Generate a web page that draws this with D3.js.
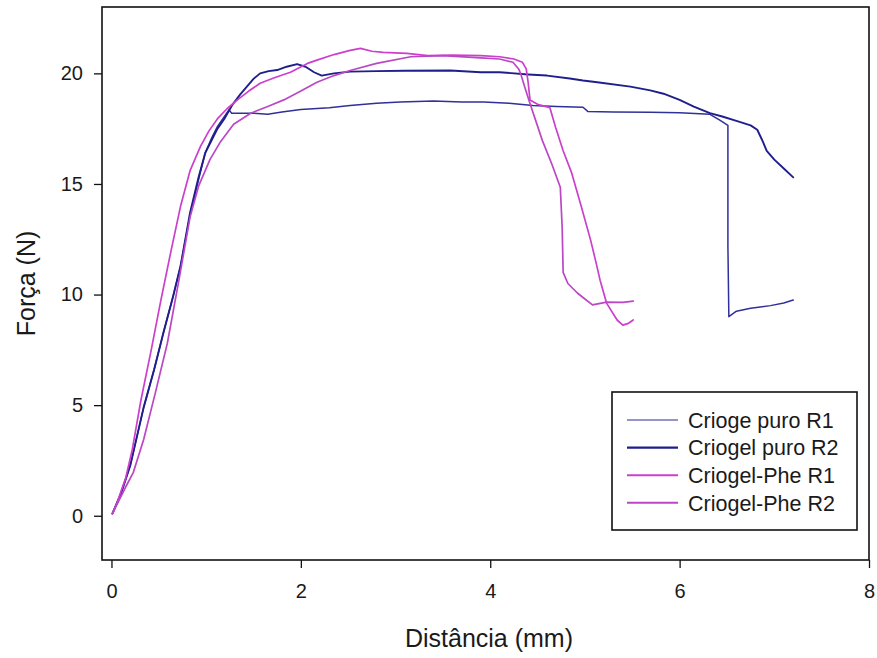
<!DOCTYPE html>
<html>
<head>
<meta charset="utf-8">
<script src="https://cdn.jsdelivr.net/npm/d3@7"></script>
<style>
  html, body { margin: 0; padding: 0; background: #fff; }
  svg { display: block; font-family: "Liberation Sans", Arial, sans-serif; }
</style>
</head>
<body>
<svg id="chart" width="877" height="658"></svg>
<script>
// Force–displacement curves, [distância (mm), força (N)]
const puroR1 = [
  [0.01,0.1],[0.1,1.0],[0.2,2.3],[0.34,4.9],[0.45,6.6],[0.55,8.3],[0.65,9.9],[0.73,11.3],
  [0.83,13.6],[0.92,15.2],[0.99,16.4],[1.06,17.1],[1.12,17.6],[1.2,18.1],[1.24,18.35],
  [1.27,18.2],[1.33,18.2],[1.5,18.2],[1.65,18.15],[1.8,18.25],[2.0,18.37],[2.3,18.45],
  [2.52,18.55],[2.8,18.65],[3.05,18.7],[3.4,18.75],[3.7,18.7],[3.93,18.7],[4.2,18.65],
  [4.45,18.55],[4.7,18.5],[4.98,18.47],[5.03,18.28],[5.3,18.25],[5.69,18.24],[6.0,18.22],
  [6.32,18.15],[6.42,17.9],[6.51,17.65],[6.51,12.2],[6.52,9.0],[6.6,9.25],[6.75,9.38],
  [6.96,9.5],[7.1,9.62],[7.2,9.75]
];
const puroR2 = [
  [0.01,0.1],[0.1,1.0],[0.2,2.3],[0.34,4.9],[0.45,6.6],[0.55,8.3],[0.65,9.9],[0.73,11.3],
  [0.83,13.7],[0.92,15.3],[0.99,16.4],[1.06,17.0],[1.12,17.5],[1.2,18.0],[1.28,18.6],
  [1.36,19.05],[1.43,19.4],[1.5,19.75],[1.57,20.0],[1.66,20.1],[1.75,20.15],[1.85,20.3],
  [1.96,20.42],[2.05,20.3],[2.14,20.05],[2.22,19.9],[2.35,20.0],[2.52,20.08],[2.8,20.1],
  [3.1,20.12],[3.58,20.13],[3.9,20.05],[4.1,20.05],[4.4,19.95],[4.6,19.9],[4.84,19.77],
  [4.98,19.68],[5.13,19.6],[5.48,19.4],[5.69,19.23],[5.83,19.08],[6.0,18.8],[6.15,18.5],
  [6.32,18.2],[6.45,18.05],[6.6,17.85],[6.75,17.65],[6.82,17.45],[6.87,17.0],[6.92,16.5],
  [7.0,16.1],[7.1,15.7],[7.2,15.3]
];
const pheR1 = [
  [0.01,0.1],[0.06,0.6],[0.1,1.1],[0.15,1.7],[0.22,3.0],[0.31,5.2],[0.42,7.5],[0.52,9.7],
  [0.63,12.0],[0.73,14.0],[0.83,15.6],[0.94,16.7],[1.03,17.4],[1.12,17.95],[1.22,18.4],
  [1.33,18.8],[1.45,19.2],[1.57,19.55],[1.72,19.8],[1.89,20.05],[2.07,20.45],[2.17,20.6],
  [2.35,20.85],[2.52,21.04],[2.63,21.13],[2.75,21.0],[2.87,20.95],[3.12,20.9],[3.34,20.8],
  [3.6,20.82],[3.9,20.8],[4.1,20.75],[4.25,20.65],[4.34,20.5],[4.38,20.2],[4.4,19.6],
  [4.42,18.8],[4.5,18.6],[4.63,18.45],[4.69,17.56],[4.77,16.5],[4.86,15.5],[4.96,14.0],
  [5.06,12.46],[5.12,11.4],[5.16,10.65],[5.23,9.6],[5.34,8.85],[5.4,8.62],[5.46,8.7],[5.51,8.85]
];
const pheR2 = [
  [0.01,0.1],[0.08,0.7],[0.15,1.3],[0.23,1.95],[0.34,3.45],[0.46,5.5],[0.59,7.8],[0.71,10.6],
  [0.83,13.5],[0.92,14.9],[1.04,16.1],[1.15,16.9],[1.29,17.7],[1.47,18.2],[1.65,18.5],
  [1.82,18.8],[2.0,19.2],[2.17,19.6],[2.35,19.9],[2.52,20.13],[2.8,20.45],[3.16,20.75],
  [3.5,20.8],[3.9,20.7],[4.1,20.65],[4.24,20.5],[4.3,20.2],[4.32,20.0],[4.37,19.3],
  [4.42,18.64],[4.55,16.97],[4.65,15.9],[4.74,14.85],[4.76,13.0],[4.77,11.0],[4.82,10.5],
  [4.92,10.07],[5.0,9.8],[5.08,9.53],[5.23,9.66],[5.4,9.65],[5.51,9.7]
];

const seriesNames = ["Crioge puro R1", "Criogel puro R2", "Criogel-Phe R1", "Criogel-Phe R2"];
const seriesData = [puroR1, puroR2, pheR1, pheR2];
const xTicks = [0, 2, 4, 6, 8];
const yTicks = [0, 5, 10, 15, 20];
const xTitle = "Distância (mm)";
const yTitle = "Força (N)";

// Line styles per series (legend swatch width kept separately)
const styles = [
  { color: "#30309a", width: 1.5, key: 1.3 },
  { color: "#1f1f8c", width: 1.9, key: 2.4 },
  { color: "#cc3fcc", width: 1.7, key: 2.1 },
  { color: "#bb47c6", width: 1.7, key: 2.1 }
];

const svg = d3.select("#chart");
const plot = { left: 102, top: 7, right: 869, bottom: 560 };

const x = d3.scaleLinear().domain([-0.1, 8]).range([plot.left, plot.right]);
const y = d3.scaleLinear().domain([-2, 23]).range([plot.bottom, plot.top]);

// Axes
const xAxis = d3.axisBottom(x).tickValues(xTicks).tickSize(8).tickPadding(16).tickSizeOuter(0);
const yAxis = d3.axisLeft(y).tickValues(yTicks).tickSize(8).tickPadding(11).tickSizeOuter(0);

const gx = svg.append("g").attr("transform", `translate(0,${plot.bottom})`).call(xAxis);
const gy = svg.append("g").attr("transform", `translate(${plot.left},0)`).call(yAxis);
[gx, gy].forEach(g => {
  g.select(".domain").remove();
  g.selectAll(".tick line").attr("stroke", "#111").attr("stroke-width", 1.3);
  g.selectAll(".tick text").attr("fill", "#1a1a1a").style("font-size", "20px")
    .style("font-family", "'Liberation Sans', Arial, sans-serif");
});

// Curves
const line = d3.line().x(d => x(d[0])).y(d => y(d[1])).curve(d3.curveLinear);
svg.append("g").selectAll("path")
  .data(seriesData)
  .join("path")
  .attr("d", line)
  .attr("fill", "none")
  .attr("stroke", (d, i) => styles[i].color)
  .attr("stroke-width", (d, i) => styles[i].width)
  .attr("stroke-linejoin", "round")
  .attr("stroke-linecap", "round");

// Frame
svg.append("rect")
  .attr("x", plot.left).attr("y", plot.top)
  .attr("width", plot.right - plot.left).attr("height", plot.bottom - plot.top)
  .attr("fill", "none").attr("stroke", "#111").attr("stroke-width", 1.6);

// Axis titles
svg.append("text")
  .attr("x", 489).attr("y", 647)
  .attr("text-anchor", "middle")
  .attr("fill", "#1a1a1a")
  .style("font-size", "25px")
  .text(xTitle);

svg.append("text")
  .attr("transform", `translate(35,${(plot.top + plot.bottom) / 2}) rotate(-90)`)
  .attr("text-anchor", "middle")
  .attr("fill", "#1a1a1a")
  .style("font-size", "25px")
  .text(yTitle);

// Legend
const legend = svg.append("g");
legend.append("rect")
  .attr("x", 612).attr("y", 392).attr("width", 245).attr("height", 138)
  .attr("fill", "#fff").attr("stroke", "#111").attr("stroke-width", 1.6);

const rows = legend.selectAll("g.row")
  .data(seriesNames)
  .join("g")
  .attr("class", "row")
  .attr("transform", (d, i) => `translate(0,${420 + i * 27.6})`);

rows.append("line")
  .attr("x1", 627).attr("x2", 678).attr("y1", 0).attr("y2", 0)
  .attr("stroke", (d, i) => i === 0 ? "#7070b4" : styles[i].color)
  .attr("stroke-width", (d, i) => styles[i].key);

rows.append("text")
  .attr("x", 688).attr("y", 0).attr("dy", "0.36em")
  .attr("fill", "#1a1a1a")
  .style("font-size", "21.5px")
  .text(d => d);
</script>
</body>
</html>
